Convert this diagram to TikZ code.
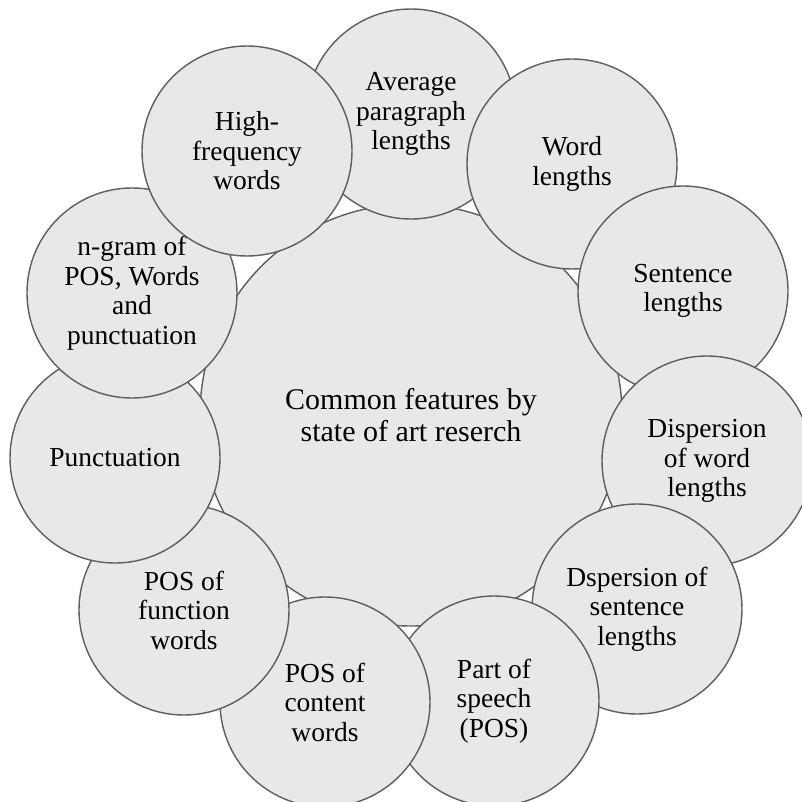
\documentclass[tikz,border=0pt]{standalone}
\usepackage{fontspec}
\setmainfont{Liberation Serif}
\definecolor{fillgray}{HTML}{E8E8E8}
\definecolor{edgegray}{HTML}{5E5E5E}
\begin{document}
\begin{tikzpicture}[x=1pt,y=-1pt,
  feat/.style={circle, draw=edgegray, line width=1.4pt, fill=fillgray,
    minimum size=210pt, inner sep=0pt, align=center, text=black,
    font=\fontsize{27.5}{29.5}\selectfont},
  hub/.style={circle, draw=edgegray, line width=1.4pt, fill=fillgray,
    minimum size=422pt, inner sep=0pt, align=center, text=black,
    font=\fontsize{30}{32}\selectfont}]
\useasboundingbox (0,0) rectangle (802,802);
\clip (0,0) rectangle (802,802);
\fill[white] (0,0) rectangle (802,802);
\node[hub] (c0) at (411,415) {Common features by\\state of art reserch};
\node[feat] (a1) at (411,114) {Average\\paragraph\\lengths};
\node[feat] (a2) at (572,164) {Word\\lengths};
\node[feat] (a3) at (683,291) {Sentence\\lengths};
\node[feat] (a4) at (707,461) {Dispersion\\of word\\lengths};
\node[feat] (a5) at (637,609) {Dspersion of\\sentence\\lengths};
\node[feat] (a6) at (494,701) {Part of\\speech\\(POS)};
\node[feat] (a7) at (325,702) {POS of\\content\\words};
\node[feat] (a8) at (184,610) {POS of\\function\\words};
\node[feat] (a9) at (115,458) {Punctuation};
\node[feat] (a10) at (132,293) {n-gram of\\POS, Words\\and\\punctuation};
\node[feat] (a11) at (247,151) {High-\\frequency\\words};
\end{tikzpicture}
\end{document}
